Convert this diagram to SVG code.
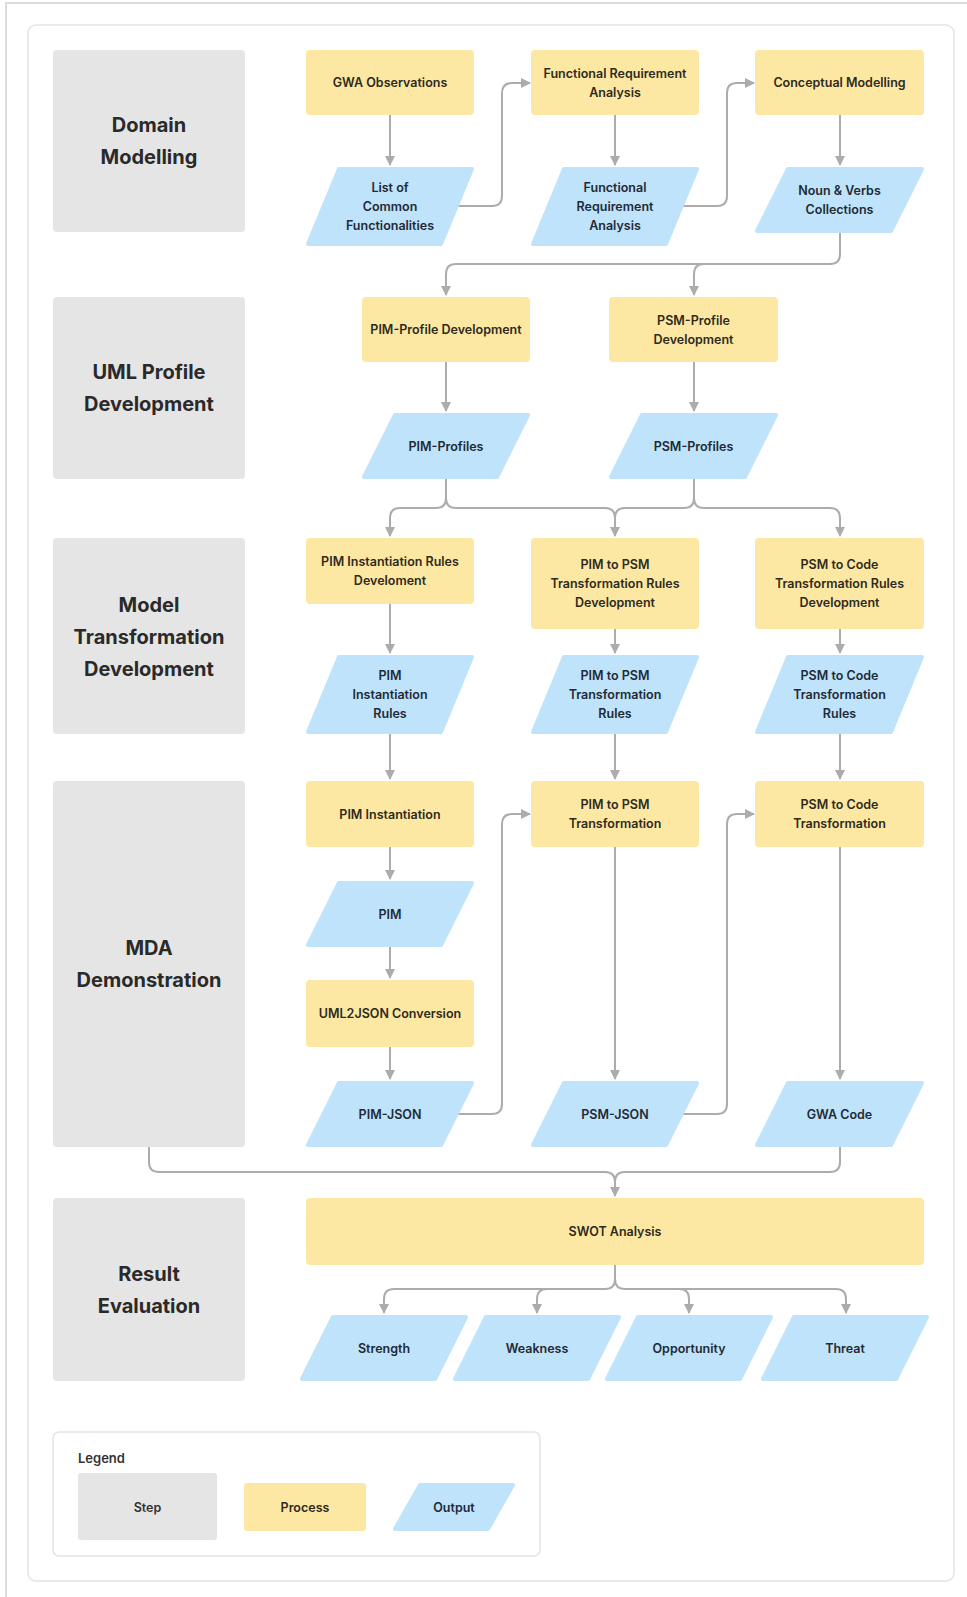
<svg xmlns="http://www.w3.org/2000/svg" width="967" height="1597" viewBox="0 0 967 1597">
<defs>
<style>
.step{fill:#e5e5e5}
.proc{fill:#fde8a3}
.out{fill:#bee3fa;stroke:#bee3fa;stroke-width:4;stroke-linejoin:round}
.st{font-family:Inter,"Liberation Sans",sans-serif;font-size:20px;font-weight:700;fill:#2a2a2a;text-anchor:middle;dominant-baseline:central}
.pt{font-family:Inter,"Liberation Sans",sans-serif;font-size:12.5px;font-weight:600;fill:#2e2a1e;text-anchor:middle;dominant-baseline:central}
.ot{font-family:Inter,"Liberation Sans",sans-serif;font-size:12.5px;font-weight:600;fill:#1f2a37;text-anchor:middle;dominant-baseline:central}
.lt{font-family:Inter,"Liberation Sans",sans-serif;font-size:13px;font-weight:600;fill:#333;dominant-baseline:central}
.c{fill:none;stroke:#acacac;stroke-width:2}
.a{marker-end:url(#arr)}
</style>
<marker id="arr" viewBox="0 0 10 10" refX="9" refY="5" markerWidth="10" markerHeight="10" markerUnits="userSpaceOnUse" orient="auto">
<path d="M0,0 L10,5 L0,10 z" fill="#acacac"/>
</marker>
</defs>
<rect x="0" y="0" width="967" height="1597" fill="#fff"/>
<path d="M6,1597 V3 H967" fill="none" stroke="#dcdcdc" stroke-width="2"/>
<rect x="28" y="25" width="926" height="1556" rx="8" fill="#fff" stroke="#e4e4e4" stroke-width="1.5"/>

<g id="connectors">
<path class="c a" d="M390,115 V165"/>
<path class="c a" d="M458,206 H492 Q502,206 502,196 V93 Q502,83 512,83 H530"/>
<path class="c a" d="M615,115 V165"/>
<path class="c a" d="M683,206 H717 Q727,206 727,196 V93 Q727,83 737,83 H754"/>
<path class="c a" d="M840,115 V165"/>
<path class="c a" d="M840,233 V254 Q840,264 830,264 H704 Q694,264 694,274 V295"/>
<path class="c a" d="M704,264 H456 Q446,264 446,274 V295"/>
<path class="c a" d="M446,362 V411"/>
<path class="c a" d="M694,362 V411"/>
<path class="c a" d="M446,479 V498 Q446,508 436,508 H400 Q390,508 390,518 V536"/>
<path class="c a" d="M446,498 Q446,508 456,508 H605 Q615,508 615,518 V536"/>
<path class="c" d="M694,479 V498 Q694,508 684,508 H625 Q615,508 615,518"/>
<path class="c a" d="M694,498 Q694,508 704,508 H830 Q840,508 840,518 V536"/>
<path class="c a" d="M390,604 V653"/>
<path class="c a" d="M615,629 V653"/>
<path class="c a" d="M840,629 V653"/>
<path class="c a" d="M390,734 V779"/>
<path class="c a" d="M615,734 V779"/>
<path class="c a" d="M840,734 V779"/>
<path class="c a" d="M390,847 V879"/>
<path class="c a" d="M390,947 V978"/>
<path class="c a" d="M390,1047 V1079"/>
<path class="c a" d="M458,1114 H492 Q502,1114 502,1104 V824 Q502,814 512,814 H530"/>
<path class="c a" d="M683,1114 H717 Q727,1114 727,1104 V824 Q727,814 737,814 H754"/>
<path class="c a" d="M615,847 V1079"/>
<path class="c a" d="M840,847 V1079"/>
<path class="c a" d="M149,1147 V1162 Q149,1172 159,1172 H605 Q615,1172 615,1182 V1196"/>
<path class="c" d="M840,1147 V1162 Q840,1172 830,1172 H625 Q615,1172 615,1182"/>
<path class="c a" d="M615,1265 V1279 Q615,1289 605,1289 H394 Q384,1289 384,1299 V1313"/>
<path class="c a" d="M557,1289 H547 Q537,1289 537,1299 V1313"/>
<path class="c a" d="M615,1279 Q615,1289 625,1289 H836 Q846,1289 846,1299 V1313"/>
<path class="c a" d="M670,1289 H679 Q689,1289 689,1299 V1313"/>
</g>

<g id="step-domain"><rect class="step" x="53" y="50" width="192" height="182" rx="4"/><text class="st" x="149" y="125">Domain</text><text class="st" x="149" y="157">Modelling</text></g>
<g id="step-uml"><rect class="step" x="53" y="297" width="192" height="182" rx="4"/><text class="st" x="149" y="372">UML Profile</text><text class="st" x="149" y="404">Development</text></g>
<g id="step-mt"><rect class="step" x="53" y="538" width="192" height="196" rx="4"/><text class="st" x="149" y="605">Model</text><text class="st" x="149" y="637">Transformation</text><text class="st" x="149" y="669">Development</text></g>
<g id="step-mda"><rect class="step" x="53" y="781" width="192" height="366" rx="4"/><text class="st" x="149" y="948">MDA</text><text class="st" x="149" y="980">Demonstration</text></g>
<g id="step-result"><rect class="step" x="53" y="1198" width="192" height="183" rx="4"/><text class="st" x="149" y="1274">Result</text><text class="st" x="149" y="1306">Evaluation</text></g>

<g id="p-gwa-obs"><rect class="proc" x="306" y="50" width="168" height="65" rx="4"/><text class="pt" x="390" y="82.5">GWA Observations</text></g>
<g id="p-fra"><rect class="proc" x="531" y="50" width="168" height="65" rx="4"/><text class="pt" x="615" y="73">Functional Requirement</text><text class="pt" x="615" y="92">Analysis</text></g>
<g id="p-concept"><rect class="proc" x="755" y="50" width="169" height="65" rx="4"/><text class="pt" x="839.5" y="82.5">Conceptual Modelling</text></g>

<g id="o-list"><polygon class="out" points="339,169 472,169 441,244 308,244"/><text class="ot" x="390" y="187.5">List of</text><text class="ot" x="390" y="206.5">Common</text><text class="ot" x="390" y="225.5">Functionalities</text></g>
<g id="o-fra"><polygon class="out" points="564,169 697,169 666,244 533,244"/><text class="ot" x="615" y="187.5">Functional</text><text class="ot" x="615" y="206.5">Requirement</text><text class="ot" x="615" y="225.5">Analysis</text></g>
<g id="o-noun"><polygon class="out" points="788,169 922,169 891,231 757,231"/><text class="ot" x="839.5" y="190.5">Noun &amp; Verbs</text><text class="ot" x="839.5" y="209.5">Collections</text></g>

<g id="p-pim-profile"><rect class="proc" x="362" y="297" width="168" height="65" rx="4"/><text class="pt" x="446" y="329.5">PIM-Profile Development</text></g>
<g id="p-psm-profile"><rect class="proc" x="609" y="297" width="169" height="65" rx="4"/><text class="pt" x="693.5" y="320">PSM-Profile</text><text class="pt" x="693.5" y="339">Development</text></g>
<g id="o-pim-profiles"><polygon class="out" points="395,415 528,415 497,477 364,477"/><text class="ot" x="446" y="446">PIM-Profiles</text></g>
<g id="o-psm-profiles"><polygon class="out" points="642,415 776,415 745,477 611,477"/><text class="ot" x="693.5" y="446">PSM-Profiles</text></g>

<g id="p-pim-inst-rules"><rect class="proc" x="306" y="538" width="168" height="66" rx="4"/><text class="pt" x="390" y="561.5">PIM Instantiation Rules</text><text class="pt" x="390" y="580.5">Develoment</text></g>
<g id="p-pim-psm-rules"><rect class="proc" x="531" y="538" width="168" height="91" rx="4"/><text class="pt" x="615" y="564.5">PIM to PSM</text><text class="pt" x="615" y="583.5">Transformation Rules</text><text class="pt" x="615" y="602.5">Development</text></g>
<g id="p-psm-code-rules"><rect class="proc" x="755" y="538" width="169" height="91" rx="4"/><text class="pt" x="839.5" y="564.5">PSM to Code</text><text class="pt" x="839.5" y="583.5">Transformation Rules</text><text class="pt" x="839.5" y="602.5">Development</text></g>
<g id="o-pim-inst-rules"><polygon class="out" points="339,657 472,657 441,732 308,732"/><text class="ot" x="390" y="675.5">PIM</text><text class="ot" x="390" y="694.5">Instantiation</text><text class="ot" x="390" y="713.5">Rules</text></g>
<g id="o-pim-psm-rules"><polygon class="out" points="564,657 697,657 666,732 533,732"/><text class="ot" x="615" y="675.5">PIM to PSM</text><text class="ot" x="615" y="694.5">Transformation</text><text class="ot" x="615" y="713.5">Rules</text></g>
<g id="o-psm-code-rules"><polygon class="out" points="788,657 922,657 891,732 757,732"/><text class="ot" x="839.5" y="675.5">PSM to Code</text><text class="ot" x="839.5" y="694.5">Transformation</text><text class="ot" x="839.5" y="713.5">Rules</text></g>

<g id="p-pim-inst"><rect class="proc" x="306" y="781" width="168" height="66" rx="4"/><text class="pt" x="390" y="814">PIM Instantiation</text></g>
<g id="p-pim-psm"><rect class="proc" x="531" y="781" width="168" height="66" rx="4"/><text class="pt" x="615" y="804.5">PIM to PSM</text><text class="pt" x="615" y="823.5">Transformation</text></g>
<g id="p-psm-code"><rect class="proc" x="755" y="781" width="169" height="66" rx="4"/><text class="pt" x="839.5" y="804.5">PSM to Code</text><text class="pt" x="839.5" y="823.5">Transformation</text></g>
<g id="o-pim"><polygon class="out" points="339,883 472,883 441,945 308,945"/><text class="ot" x="390" y="914">PIM</text></g>
<g id="p-uml2json"><rect class="proc" x="306" y="980" width="168" height="67" rx="4"/><text class="pt" x="390" y="1013.5">UML2JSON Conversion</text></g>
<g id="o-pim-json"><polygon class="out" points="339,1083 472,1083 441,1145 308,1145"/><text class="ot" x="390" y="1114">PIM-JSON</text></g>
<g id="o-psm-json"><polygon class="out" points="564,1083 697,1083 666,1145 533,1145"/><text class="ot" x="615" y="1114">PSM-JSON</text></g>
<g id="o-gwa-code"><polygon class="out" points="788,1083 922,1083 891,1145 757,1145"/><text class="ot" x="839.5" y="1114">GWA Code</text></g>

<g id="p-swot"><rect class="proc" x="306" y="1198" width="618" height="67" rx="4"/><text class="pt" x="615" y="1231.5">SWOT Analysis</text></g>
<g id="o-strength"><polygon class="out" points="333,1317 466,1317 435,1379 302,1379"/><text class="ot" x="384" y="1348">Strength</text></g>
<g id="o-weakness"><polygon class="out" points="486,1317 619,1317 588,1379 455,1379"/><text class="ot" x="537" y="1348">Weakness</text></g>
<g id="o-opportunity"><polygon class="out" points="638,1317 771,1317 740,1379 607,1379"/><text class="ot" x="689" y="1348">Opportunity</text></g>
<g id="o-threat"><polygon class="out" points="794,1317 927,1317 896,1379 763,1379"/><text class="ot" x="845" y="1348">Threat</text></g>

<g id="legend">
<rect x="53" y="1432" width="487" height="124" rx="6" fill="#fff" stroke="#e4e4e4" stroke-width="1.5"/>
<text class="lt" x="78" y="1458">Legend</text>
<rect class="step" x="78" y="1473" width="139" height="67" rx="3"/><text class="pt" x="147.5" y="1507" style="fill:#333">Step</text>
<rect class="proc" x="244" y="1483" width="122" height="48" rx="3"/><text class="pt" x="305" y="1507">Process</text>
<polygon class="out" points="420,1485 513,1485 488,1529 395,1529"/><text class="ot" x="454" y="1507">Output</text>
</g>
</svg>
